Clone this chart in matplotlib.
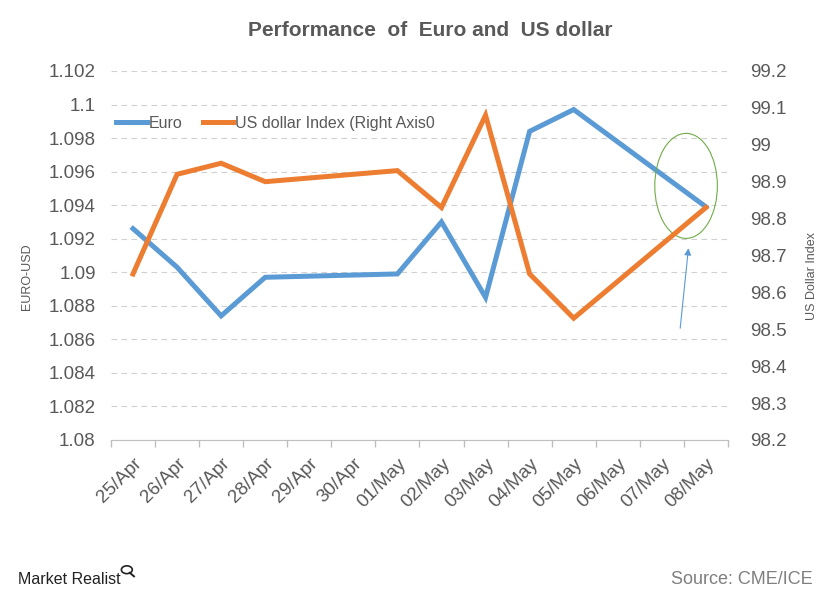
"""Euro vs US dollar index, dual axis line chart."""
import matplotlib.pyplot as plt
import numpy as np
from matplotlib.patches import Ellipse, Circle
from matplotlib.lines import Line2D

plt.rcParams["font.family"] = ["Liberation Sans", "DejaVu Sans"]

DATES = ["25/Apr", "26/Apr", "27/Apr", "28/Apr", "29/Apr", "30/Apr", "01/May",
         "02/May", "03/May", "04/May", "05/May", "06/May", "07/May", "08/May"]
EURO = [1.0926, 1.0903, 1.0874, 1.0897, None, None, 1.0899,
        1.0930, 1.0885, 1.0984, 1.0997, None, None, 1.0939]
USD_INDEX = [98.65, 98.92, 98.95, 98.90, None, None, 98.93,
             98.83, 99.08, 98.65, 98.53, None, None, 98.83]
LEFT_TICKS = [1.08, 1.082, 1.084, 1.086, 1.088, 1.09, 1.092, 1.094, 1.096, 1.098, 1.1, 1.102]
LEFT_LABELS = ["1.08", "1.082", "1.084", "1.086", "1.088", "1.09", "1.092", "1.094",
               "1.096", "1.098", "1.1", "1.102"]
RIGHT_TICKS = [98.2, 98.3, 98.4, 98.5, 98.6, 98.7, 98.8, 98.9, 99.0, 99.1, 99.2]
RIGHT_LABELS = ["98.2", "98.3", "98.4", "98.5", "98.6", "98.7", "98.8", "98.9", "99", "99.1", "99.2"]

BLUE = "#5B9BD5"
ORANGE = "#ED7D31"
GRAY_TXT = "#595959"


def valid(series):
    idx = [i for i, v in enumerate(series) if v is not None]
    return np.array(idx), np.array([series[i] for i in idx])


fig = plt.figure(figsize=(8.4, 6.01), dpi=100)
ax = fig.add_axes([0.1321, 0.2679, 0.7345, 0.614])
ax2 = ax.twinx()

x_e, y_e = valid(EURO)
x_u, y_u = valid(USD_INDEX)
ax.plot(x_e, y_e, color=BLUE, lw=3.6, solid_joinstyle="miter", zorder=3)
ax2.plot(x_u, y_u, color=ORANGE, lw=3.6, solid_joinstyle="miter", zorder=3)

n = len(DATES)
ax.set_xlim(-0.5, n - 0.5)
ax.set_ylim(LEFT_TICKS[0], LEFT_TICKS[-1])
ax2.set_ylim(RIGHT_TICKS[0], RIGHT_TICKS[-1])

ax.set_yticks(LEFT_TICKS)
ax.set_yticklabels(LEFT_LABELS)
ax2.set_yticks(RIGHT_TICKS)
ax2.set_yticklabels(RIGHT_LABELS)
ax.tick_params(axis="y", length=0, pad=11, labelsize=13.5, labelcolor=GRAY_TXT)
ax2.tick_params(axis="y", length=0, pad=16, labelsize=13.5, labelcolor=GRAY_TXT)

ax.set_xticks(np.arange(n))
ax.set_xticklabels(DATES, rotation=45, ha="right", rotation_mode="anchor")
ax.set_xticks(np.arange(n + 1) - 0.5, minor=True)
ax.tick_params(axis="x", which="major", length=0, pad=11, labelsize=13.5, labelcolor=GRAY_TXT)
ax.tick_params(axis="x", which="minor", length=5, color="#BFBFBF", width=1)

ax.grid(axis="y", linestyle=(0, (5, 4)), color="#D0D0D0", lw=0.8)
ax.set_axisbelow(True)
for a in (ax, ax2):
    for s in ("top", "right", "left", "bottom"):
        a.spines[s].set_visible(False)
ax.spines["bottom"].set_visible(True)
ax.spines["bottom"].set_color("#BFBFBF")

# callout on the last day
ax.add_patch(Ellipse((12.55, 1.09515), 1.42, 0.00626, fill=False, ec="#70AD47", lw=0.8, zorder=4))
ax.annotate("", xy=(12.61, 1.0916), xytext=(12.41, 1.0865),
            arrowprops=dict(arrowstyle="-|>", color=BLUE, lw=0.8, mutation_scale=10))

handles = [Line2D([], [], color=BLUE, lw=3.6), Line2D([], [], color=ORANGE, lw=3.6)]
fig.legend(handles, ["Euro", "US dollar Index (Right Axis0"], loc="upper left",
           bbox_to_anchor=(0.131, 0.818), ncol=2, frameon=False, fontsize=11.5,
           handlelength=1.9, handletextpad=0.1, columnspacing=1.3, labelcolor=GRAY_TXT,
           borderaxespad=0)

fig.text(0.512, 0.95, "Performance  of  Euro and  US dollar", ha="center", va="center",
         fontsize=15, fontweight="bold", color=GRAY_TXT)
fig.text(0.032, 0.54, "EURO-USD", rotation=90, ha="center", va="center", fontsize=9, color=GRAY_TXT)
fig.text(0.967, 0.54, "US Dollar Index", rotation=90, ha="center", va="center", fontsize=9,
         color=GRAY_TXT)

fig.text(0.022, 0.035, "Market Realist", ha="left", va="center", fontsize=11.5, color="#222222")
fig.patches.append(Circle((0.151, 0.052), 0.0065, transform=fig.transFigure, fill=False,
                          ec="#222222", lw=1.2))
fig.lines.append(Line2D([0.1545, 0.1595], [0.047, 0.041], transform=fig.transFigure,
                        color="#222222", lw=1.4))
fig.text(0.967, 0.035, "Source: CME/ICE", ha="right", va="center", fontsize=13, color="#7F7F7F")

fig.savefig("out.png", dpi=100, facecolor="white")
